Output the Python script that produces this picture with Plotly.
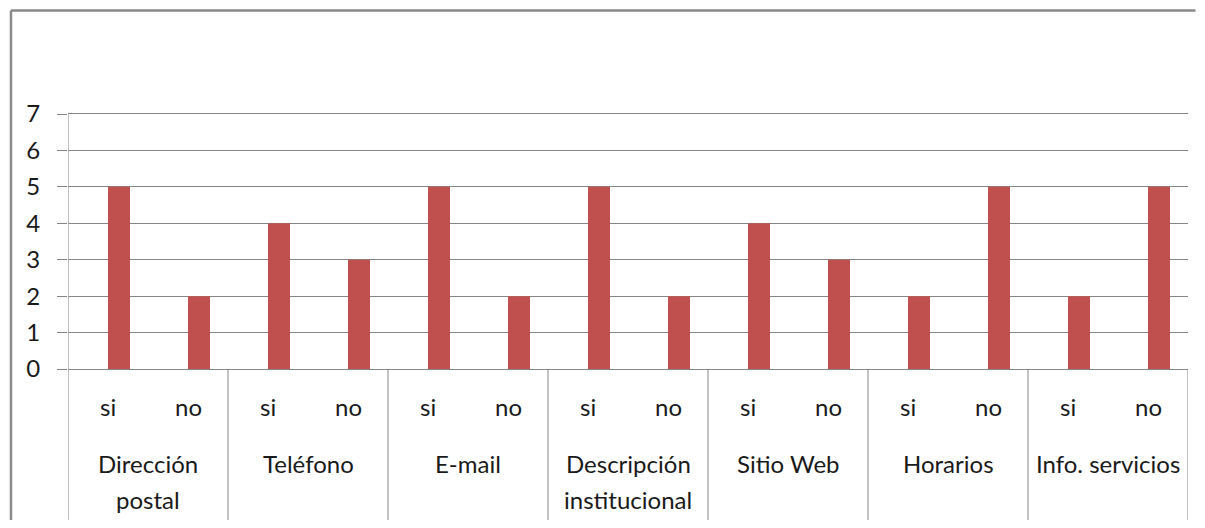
import plotly.graph_objects as go

groups = [["Dirección", "postal"], ["Teléfono"], ["E-mail"], ["Descripción", "institucional"],
          ["Sitio Web"], ["Horarios"], ["Info. servicios"]]
sub_labels = ["si", "no"]
si_values = [5, 4, 5, 5, 4, 2, 2]
no_values = [2, 3, 2, 2, 3, 5, 5]
y_ticks = [0, 1, 2, 3, 4, 5, 6, 7]

values = []
for s, n in zip(si_values, no_values):
    values += [s, n]
xpos = list(range(len(values)))

BAR = "#C0504D"
GRID = "#868686"
TXT = "#1a1a1a"
FONT = "Lato"
FS = 24

fig = go.Figure()
fig.add_trace(go.Bar(x=xpos, y=values, marker=dict(color=BAR, line=dict(width=0)),
                     width=0.275, offset=0, hoverinfo="y"))

ann = []
shapes = []
for i in range(len(values)):
    ann.append(dict(x=i, y=-0.149, xref="x", yref="paper", text=sub_labels[i % 2],
                    xanchor="center", yanchor="middle",
                    showarrow=False, font=dict(family=FONT, size=FS, color=TXT)))
for g, lines in enumerate(groups):
    cx = 2 * g + 0.5
    for k, line in enumerate(lines):
        ann.append(dict(x=cx, y=-0.3725 - k * 0.141, xref="x", yref="paper", text=line,
                        xanchor="center", yanchor="middle",
                        showarrow=False, font=dict(family=FONT, size=FS, color=TXT)))
for g in range(len(groups) + 1):
    xb = 2 * g - 0.5
    shapes.append(dict(type="line", xref="x", yref="paper", x0=xb, x1=xb, y0=0, y1=-0.592,
                       line=dict(color=GRID, width=1)))
shapes.append(dict(type="line", xref="x", yref="paper", x0=-0.5, x1=-0.5, y0=0, y1=1,
                   line=dict(color=GRID, width=1)))
# outer chart border (left and top edges visible)
shapes.append(dict(type="line", xref="paper", yref="paper", x0=-0.0509, x1=-0.0509, y0=-0.8, y1=1.406,
                   line=dict(color="#8a8a8a", width=2.5)))
shapes.append(dict(type="line", xref="paper", yref="paper", x0=-0.0509, x1=1.0067, y0=1.406, y1=1.406,
                   line=dict(color="#8a8a8a", width=2.5)))

fig.update_layout(
    width=1189, height=512,
    margin=dict(l=60, r=9, t=106, b=151),
    paper_bgcolor="white", plot_bgcolor="white",
    showlegend=False,
    xaxis=dict(range=[-0.5, len(values) - 0.5], showticklabels=False, showgrid=False,
               zeroline=False, showline=True, mirror=True, linecolor=GRID, linewidth=1, ticks=""),
    yaxis=dict(range=[0, 7], tickvals=y_ticks, showgrid=True, gridcolor=GRID, gridwidth=1,
               zeroline=False, showline=False, ticks="outside", ticklen=10, tickcolor=GRID,
               ticklabelstandoff=12,
               tickfont=dict(family=FONT, size=FS, color=TXT)),
    annotations=ann, shapes=shapes,
)
fig.write_html("out.html")
